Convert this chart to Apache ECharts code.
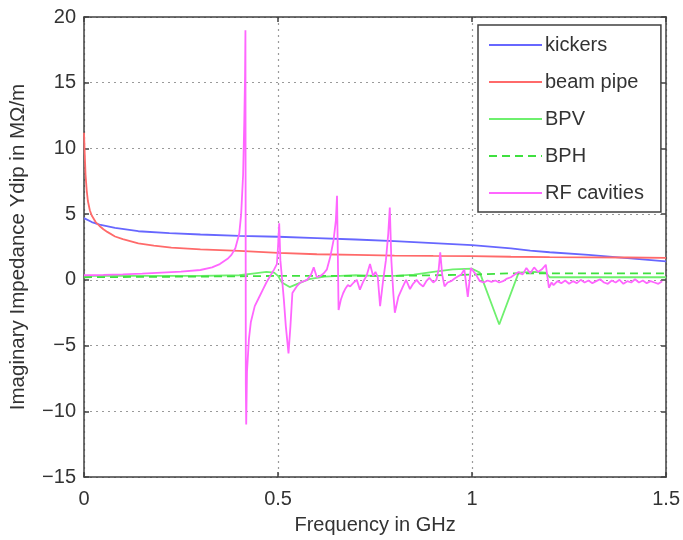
<!DOCTYPE html>
<html>
<head>
<meta charset="utf-8">
<script src="https://cdn.jsdelivr.net/npm/echarts@6/dist/echarts.min.js"></script>
<style>
  html, body { margin: 0; padding: 0; background: #fff; }
  #chart { width: 683px; height: 540px; }
</style>
</head>
<body>
<div id="chart"></div>
<script>
// Frequency (GHz) and imaginary dipolar impedance (MOhm/m) per element
const kickersFreq = [0, 0.02, 0.04, 0.08, 0.14, 0.22, 0.3, 0.4, 0.5, 0.6, 0.7, 0.8, 0.9, 1.0, 1.1, 1.15, 1.2, 1.3, 1.4, 1.5];
const kickersVal  = [4.7, 4.4, 4.2, 3.95, 3.7, 3.55, 3.45, 3.35, 3.28, 3.18, 3.07, 2.95, 2.8, 2.65, 2.4, 2.23, 2.1, 1.9, 1.65, 1.4];

const pipeFreq = [0, 0.002, 0.004, 0.007, 0.01, 0.015, 0.02, 0.03, 0.04, 0.05, 0.06, 0.08, 0.1, 0.14, 0.18, 0.225, 0.3, 0.4, 0.5, 0.6, 0.7, 0.8, 0.9, 1.0, 1.1, 1.2, 1.3, 1.4, 1.5];
const pipeVal  = [11.2, 9.5, 8.0, 6.8, 6.0, 5.3, 4.9, 4.4, 4.1, 3.85, 3.65, 3.3, 3.1, 2.78, 2.6, 2.45, 2.32, 2.2, 2.05, 1.95, 1.9, 1.85, 1.82, 1.8, 1.76, 1.73, 1.71, 1.7, 1.68];

const bpvFreq = [0, 0.1, 0.2, 0.3, 0.4, 0.44, 0.47, 0.49, 0.5, 0.51, 0.53, 0.55, 0.58, 0.62, 0.66, 0.7, 0.75, 0.8, 0.85, 0.9, 0.95, 1.0, 1.02, 1.07, 1.12, 1.16, 1.19, 1.2, 1.3, 1.4, 1.5];
const bpvVal  = [0.3, 0.3, 0.3, 0.3, 0.35, 0.5, 0.6, 0.55, 0.3, -0.2, -0.55, -0.3, 0.05, 0.25, 0.3, 0.35, 0.3, 0.3, 0.4, 0.6, 0.8, 0.85, 0.55, -3.4, 0.55, 0.6, 0.55, 0.2, 0.2, 0.2, 0.2];

const bphFreq = [0, 0.3, 0.5, 0.8, 1.0, 1.1, 1.3, 1.5];
const bphVal  = [0.2, 0.25, 0.3, 0.3, 0.4, 0.5, 0.5, 0.5];

const rfFreq = [
  0, 0.05, 0.1, 0.15, 0.2, 0.25, 0.3, 0.33, 0.35, 0.37, 0.38, 0.39, 0.4, 0.405, 0.41, 0.413, 0.415, 0.416,
  0.417, 0.418, 0.42, 0.425, 0.43, 0.44, 0.45, 0.46, 0.47, 0.48, 0.49, 0.497, 0.5, 0.503, 0.506, 0.51,
  0.515, 0.52, 0.527, 0.532, 0.537, 0.548, 0.558, 0.575, 0.585, 0.592, 0.6, 0.609, 0.618, 0.626, 0.635,
  0.643, 0.649, 0.652, 0.656, 0.662, 0.668, 0.673, 0.68, 0.686, 0.695, 0.703, 0.711, 0.72, 0.728, 0.737,
  0.745, 0.751, 0.757, 0.763, 0.771, 0.778, 0.784, 0.788, 0.792, 0.797, 0.801, 0.81, 0.822, 0.83, 0.84,
  0.848, 0.857, 0.865, 0.874, 0.882, 0.89, 0.9, 0.908, 0.914, 0.918, 0.923, 0.929, 0.937, 0.946, 0.955,
  0.963, 0.972, 0.98, 0.989, 0.997, 1.01, 1.02, 1.03, 1.04, 1.05, 1.06, 1.07, 1.08, 1.09, 1.1, 1.11,
  1.12, 1.13, 1.14, 1.15, 1.16, 1.17, 1.18, 1.19, 1.198, 1.205, 1.21, 1.22, 1.23, 1.24, 1.25, 1.26,
  1.27, 1.28, 1.29, 1.3, 1.31, 1.32, 1.33, 1.34, 1.35, 1.36, 1.37, 1.38, 1.39, 1.4, 1.41, 1.42, 1.43,
  1.44, 1.45, 1.46, 1.47, 1.48, 1.49, 1.5
];
const rfVal = [
  0.35, 0.38, 0.42, 0.48, 0.55, 0.62, 0.75, 0.95, 1.2, 1.6, 1.9, 2.4, 3.5, 5.0, 8.0, 12.0, 15.5, 19.0,
  -8.0, -11.0, -7.0, -4.5, -3.2, -2.0, -1.4, -0.8, -0.2, 0.3, 0.8, 1.2, 2.5, 4.3, 1.5, 0.2,
  -1.5, -3.5, -5.6, -3.5, -1.0, -0.5, -0.2, 0.0, 0.4, 0.95, 0.2, 0.3, 0.5, 0.8, 1.8,
  3.0, 4.5, 6.4, -2.3, -1.5, -1.0, -0.7, -0.4, -0.5, -0.2, 0.0, -0.75, -0.1, 0.3, 1.2,
  0.3, 0.6, 0.2, -2.0, 0.0, 1.5, 3.5, 5.5, 1.5, -1.0, -2.5, -1.3, -0.5, 0.0, -0.7,
  -0.3, 0.0, -0.3, -0.5, -0.1, 0.15, -0.2, 0.0, 0.8, 2.1, 0.4, -0.5, -0.2, -0.1, 0.1,
  0.25, 0.4, 0.8, -1.3, 0.9, 0.4, -0.1, -0.2, -0.05, -0.15, -0.05, -0.2, -0.1, 0.1, 0.2, 0.4,
  0.6, 0.4, 0.9, 0.5, 0.95, 0.6, 0.8, 1.15, -0.6, -0.2, -0.4, -0.1, -0.25, -0.05, -0.3, -0.1,
  -0.25, 0.0, -0.2, -0.05, -0.25, -0.1, 0.05, -0.2, -0.3, -0.05, -0.2, 0.0, -0.3, -0.1, -0.2, 0.05,
  -0.2, -0.05, -0.25, -0.1, -0.2, -0.3, -0.1
];

const xTicks = { min: 0, max: 1.5, interval: 0.5 };
const yTicks = { min: -15, max: 20, interval: 5 };

const pair = (fs, vs) => fs.map((f, i) => [f, vs[i]]);

const textColor = '#333';
const frameColor = '#404040';
const fontFamily = '"Liberation Sans", Arial, sans-serif';

const baseX = {
  type: 'value', min: xTicks.min, max: xTicks.max, interval: xTicks.interval,
  axisLine: { show: true, onZero: false, lineStyle: { color: frameColor, width: 1.5 } },
  axisTick: { show: true, inside: true, length: 5, lineStyle: { color: frameColor, width: 1.5 } }
};
const baseY = {
  type: 'value', min: yTicks.min, max: yTicks.max, interval: yTicks.interval,
  axisLine: { show: true, onZero: false, lineStyle: { color: frameColor, width: 1.5 } },
  axisTick: { show: true, inside: true, length: 5, lineStyle: { color: frameColor, width: 1.5 } }
};
const gridDots = { show: true, lineStyle: { color: '#9a9a9a', width: 1.2, type: [2, 4] } };

const line = (name, data, color, dashed) => ({
  name, type: 'line', data, symbol: 'none', smooth: false, animation: false,
  lineStyle: { color, width: 1.8, type: dashed ? [8, 5] : 'solid' },
  itemStyle: { color }
});

const chart = echarts.init(document.getElementById('chart'), null, { renderer: 'canvas' });
chart.setOption({
  backgroundColor: '#fff',
  animation: false,
  textStyle: { fontFamily },
  grid: { left: 82, right: 15, top: 17, bottom: 62, containLabel: false },
  xAxis: [
    Object.assign({}, baseX, {
      position: 'bottom',
      name: 'Frequency in GHz', nameLocation: 'middle', nameGap: 38,
      nameTextStyle: { color: textColor, fontSize: 20, fontFamily },
      axisLabel: { color: textColor, fontSize: 20, margin: 12, fontFamily,
        formatter: v => String(v) },
      splitLine: gridDots
    }),
    Object.assign({}, baseX, {
      position: 'top', axisLabel: { show: false }, splitLine: { show: false }
    })
  ],
  yAxis: [
    Object.assign({}, baseY, {
      position: 'left',
      name: 'Imaginary Impedance Ydip in MΩ/m', nameLocation: 'middle', nameGap: 55,
      nameTextStyle: { color: textColor, fontSize: 20.5, fontFamily },
      axisLabel: { color: textColor, fontSize: 20, margin: 8, fontFamily,
        formatter: v => (v < 0 ? '\u2212' + Math.abs(v) : String(v)) },
      splitLine: gridDots
    }),
    Object.assign({}, baseY, {
      position: 'right', axisLabel: { show: false }, splitLine: { show: false }
    })
  ],
  legend: {
    orient: 'vertical', left: 478, top: 25,
    padding: [10, 17, 9, 10],
    itemWidth: 53, itemHeight: 20, itemGap: 17,
    itemStyle: { opacity: 0 },
    backgroundColor: '#fff', borderColor: frameColor, borderWidth: 1.5,
    textStyle: { color: textColor, fontSize: 20, fontFamily, padding: [0, 0, 0, -2] },
    data: ['kickers', 'beam pipe', 'BPV', 'BPH', 'RF cavities']
  },
  series: [
    line('kickers', pair(kickersFreq, kickersVal), '#6767ff', false),
    line('beam pipe', pair(pipeFreq, pipeVal), '#ff6a6a', false),
    line('BPV', pair(bpvFreq, bpvVal), '#6ef06e', false),
    line('BPH', pair(bphFreq, bphVal), '#3fe03f', true),
    line('RF cavities', pair(rfFreq, rfVal), '#ff66ff', false)
  ]
});
</script>
</body>
</html>
